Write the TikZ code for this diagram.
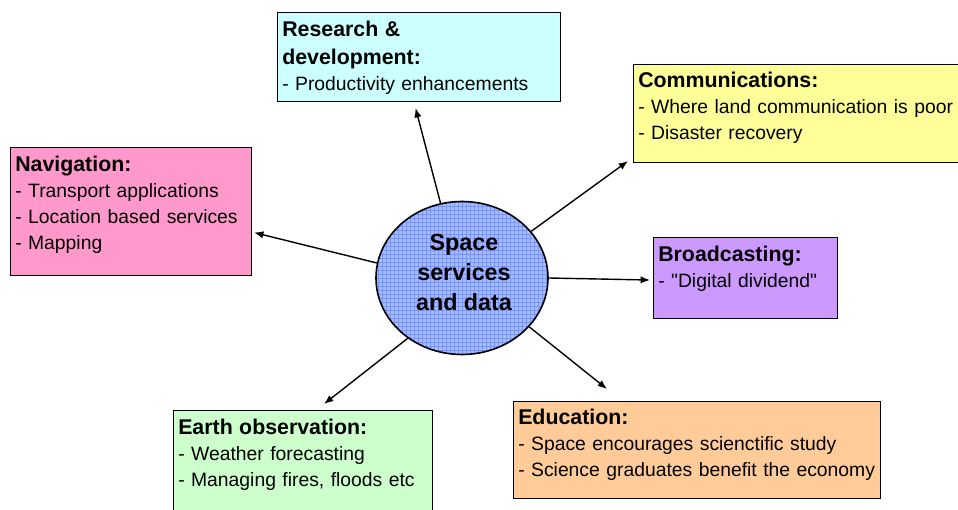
\documentclass[tikz,border=0pt]{standalone}
\usepackage{fontspec}
\setmainfont{Liberation Sans}
% same family without TeX ligatures, for straight quote marks
\newfontfamily\straightq{Liberation Sans}
\usetikzlibrary{arrows.meta,calc,shapes.geometric}

\definecolor{rdfill}{RGB}{204,255,255}
\definecolor{commfill}{RGB}{255,255,153}
\definecolor{navfill}{RGB}{255,153,204}
\definecolor{bcfill}{RGB}{204,153,255}
\definecolor{edufill}{RGB}{255,204,153}
\definecolor{eofill}{RGB}{204,255,204}
\definecolor{corefill}{RGB}{166,189,255}
\definecolor{coregrid}{RGB}{118,146,255}

\newcommand\hd{\fontsize{16pt}{21pt}\selectfont\bfseries}
\newcommand\bd{\fontsize{14.5pt}{19.5pt}\selectfont}
\newcommand\sq{{\straightq"}}

\tikzset{
  panel/.style n args={3}{draw=black, line width=0.8pt, fill=#1, anchor=north west,
    inner sep=0pt, minimum width=#2*0.75pt, minimum height=#3*0.75pt},
  txt/.style={anchor=north west, inner sep=0pt, text width=12cm, align=left, font=\bd},
  arr/.style={line width=1.05pt, -{Latex[length=7pt,width=5.5pt]}},
  coreshape/.style={ellipse, draw=black, line width=1.2pt, fill=corefill,
    minimum width=172*0.75pt, minimum height=153*0.75pt, inner sep=0pt,
    path picture={\draw[coregrid, line width=0.3pt]
      (path picture bounding box.south west) grid[step=3pt]
      (path picture bounding box.north east);}},
  coretext/.style={align=center, inner sep=0pt,
    font=\fontsize{17.5pt}{22.5pt}\selectfont\bfseries}
}

\begin{document}
\begin{tikzpicture}[x=0.75pt, y=-0.75pt]
\useasboundingbox (0,0) rectangle (958,510);

% central hub
\node[coreshape] (core) at (462,278) {};
\node[coretext] (coretxt) at (464,272) {Space\\services\\and data};

% surrounding panels
\node[panel={rdfill}{283}{89}] (rd) at (277,12) {};
\node[txt] (rdt) at ($(rd.north west)+(5,9)$)
  {{\hd Research \&\par development:\par}- Productivity enhancements};

\node[panel={commfill}{340}{98}] (comm) at (633,64) {};
\node[txt] (commt) at ($(comm.north west)+(5,8)$)
  {{\hd Communications:\par}- Where land communication is poor\par - Disaster recovery};

\node[panel={navfill}{241}{128}] (nav) at (10,147) {};
\node[txt] (navt) at ($(nav.north west)+(5,9)$)
  {{\hd Navigation:\par}- Transport applications\par - Location based services\par - Mapping};

\node[panel={bcfill}{184}{81}] (bc) at (653,237) {};
\node[txt] (bct) at ($(bc.north west)+(5,9)$)
  {{\hd Broadcasting:\par}- \sq Digital dividend\sq};

\node[panel={edufill}{367}{97}] (edu) at (513,401) {};
\node[txt] (edut) at ($(edu.north west)+(5,8)$)
  {{\hd Education:\par}- Space encourages scienctific study\par - Science graduates benefit the economy};

\node[panel={eofill}{259}{115}] (eo) at (173,410) {};
\node[txt] (eot) at ($(eo.north west)+(5,9)$)
  {{\hd Earth observation:\par}- Weather forecasting\par - Managing fires, floods etc};

% connectors from the hub
\draw[arr] (core.106) -- ($(rd.south)+(-3.5,6)$);
\draw[arr] (core.34) -- ($(comm.south west)+(-5,-2)$);
\draw[arr] (core.east) -- ($(bc.west)+(-3,2)$);
\draw[arr] (core.-36) -- ($(edu.north west)+(94,-12)$);
\draw[arr] (core.228) -- ($(eo.north west)+(151,-6)$);
\draw[arr] (core.170) -- ($(nav.east)+(2,21)$);
\end{tikzpicture}
\end{document}
